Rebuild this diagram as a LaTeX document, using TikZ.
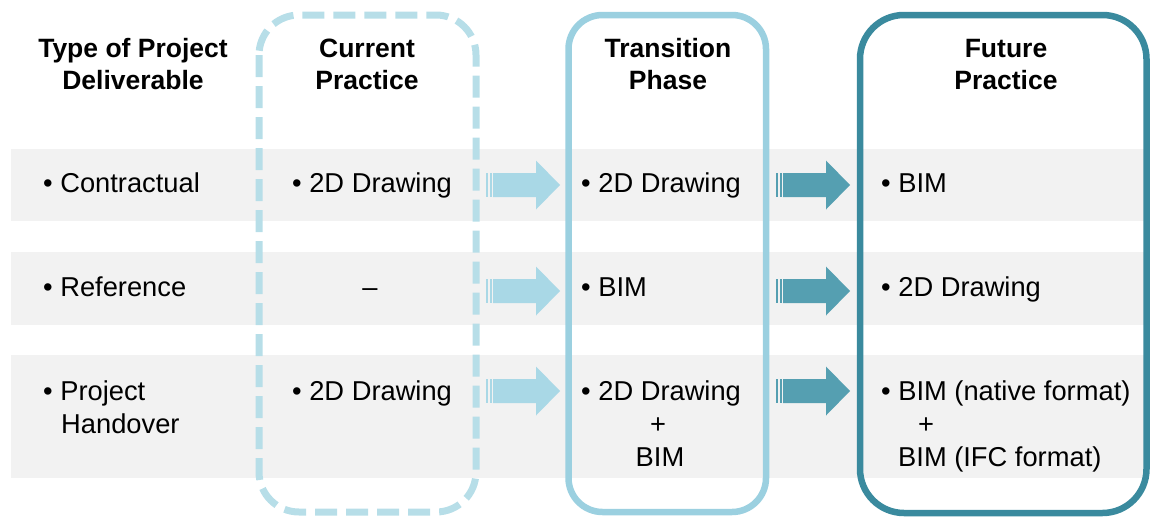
\documentclass[tikz,border=0pt]{standalone}
\usepackage{fontspec}
\setmainfont{Liberation Sans}
\definecolor{bandgray}{HTML}{F2F2F2}
\definecolor{curline}{HTML}{B7DEE8}
\definecolor{transline}{HTML}{9BD0E0}
\definecolor{futline}{HTML}{3A8A9E}
\definecolor{arrowlight}{HTML}{A9D8E6}
\definecolor{arrowdark}{HTML}{559FB1}
\begin{document}
\begin{tikzpicture}[x=1pt,y=-1pt,
  band/.style={fill=bandgray},
  curbox/.style={draw=curline,line width=7pt,dash pattern=on 22pt off 9pt,rounded corners=40pt},
  transbox/.style={draw=transline,line width=6.5pt,rounded corners=34pt},
  futbox/.style={draw=futline,line width=6.5pt,rounded corners=44pt},
  head/.style={font=\fontsize{26.5}{32}\selectfont\bfseries,align=center,anchor=base,inner sep=0pt},
  cell/.style={font=\fontsize{27.3}{33}\selectfont,anchor=base west,inner sep=0pt},
  cellc/.style={font=\fontsize{27.3}{33}\selectfont,anchor=base,inner sep=0pt},
  stripearrow/.pic={
    \fill (0,-12) rectangle (1.5,12);
    \fill (3.5,-12) rectangle (5.5,12);
    \fill (7,-12) -- (50,-12) -- (50,-24.5) -- (74,0) -- (50,24.5) -- (50,12) -- (7,12) -- cycle;
  }]
\useasboundingbox (0,0) rectangle (1151,522);
% row bands
\fill[band] (11,149) rectangle (1146,221);
\fill[band] (11,252) rectangle (1146,325);
\fill[band] (11,355) rectangle (1146,478);
% column frames
\draw[curbox] (259,15) rectangle (476,512);
\draw[transbox] (568.5,15) rectangle (766,512);
\draw[futbox] (860,15) rectangle (1146.5,513);
% column headings
\node[head] (h0) at (133,89) {Type of Project\\Deliverable};
\node[head] (h1) at (367,89) {Current\\Practice};
\node[head] (h2) at (668,89) {Transition\\Phase};
\node[head] (h3) at (1006,89) {Future\\Practice};
% transition arrows
\pic[fill=arrowlight] at (486,185) {stripearrow};
\pic[fill=arrowlight] at (486,291) {stripearrow};
\pic[fill=arrowlight] at (486,391) {stripearrow};
\pic[fill=arrowdark] at (776,185) {stripearrow};
\pic[fill=arrowdark] at (776,291) {stripearrow};
\pic[fill=arrowdark] at (776,391) {stripearrow};
% row 1
\node[cell] (a1) at (43,192) {• Contractual};
\node[cell] (b1) at (292,192) {• 2D Drawing};
\node[cell] (c1) at (581,192) {• 2D Drawing};
\node[cell] (d1) at (881,192) {• BIM};
% row 2
\node[cell] (a2) at (43,296) {• Reference};
\node[cellc] (b2) at (370,296) {–};
\node[cell] (c2) at (581,296) {• BIM};
\node[cell] (d2) at (881,296) {• 2D Drawing};
% row 3
\node[cell] (a3) at (43,400) {• Project};
\node[cell] (a3b) at (61,433) {Handover};
\node[cell] (b3) at (292,400) {• 2D Drawing};
\node[cell] (c3) at (581,400) {• 2D Drawing};
\node[cellc] (c3p) at (658,433) {+};
\node[cellc] (c3b) at (660,466) {BIM};
\node[cell] (d3) at (881,400) {• BIM (native format)};
\node[cellc] (d3p) at (926,433) {+};
\node[cell] (d3b) at (898,466) {BIM (IFC format)};
\end{tikzpicture}
\end{document}
